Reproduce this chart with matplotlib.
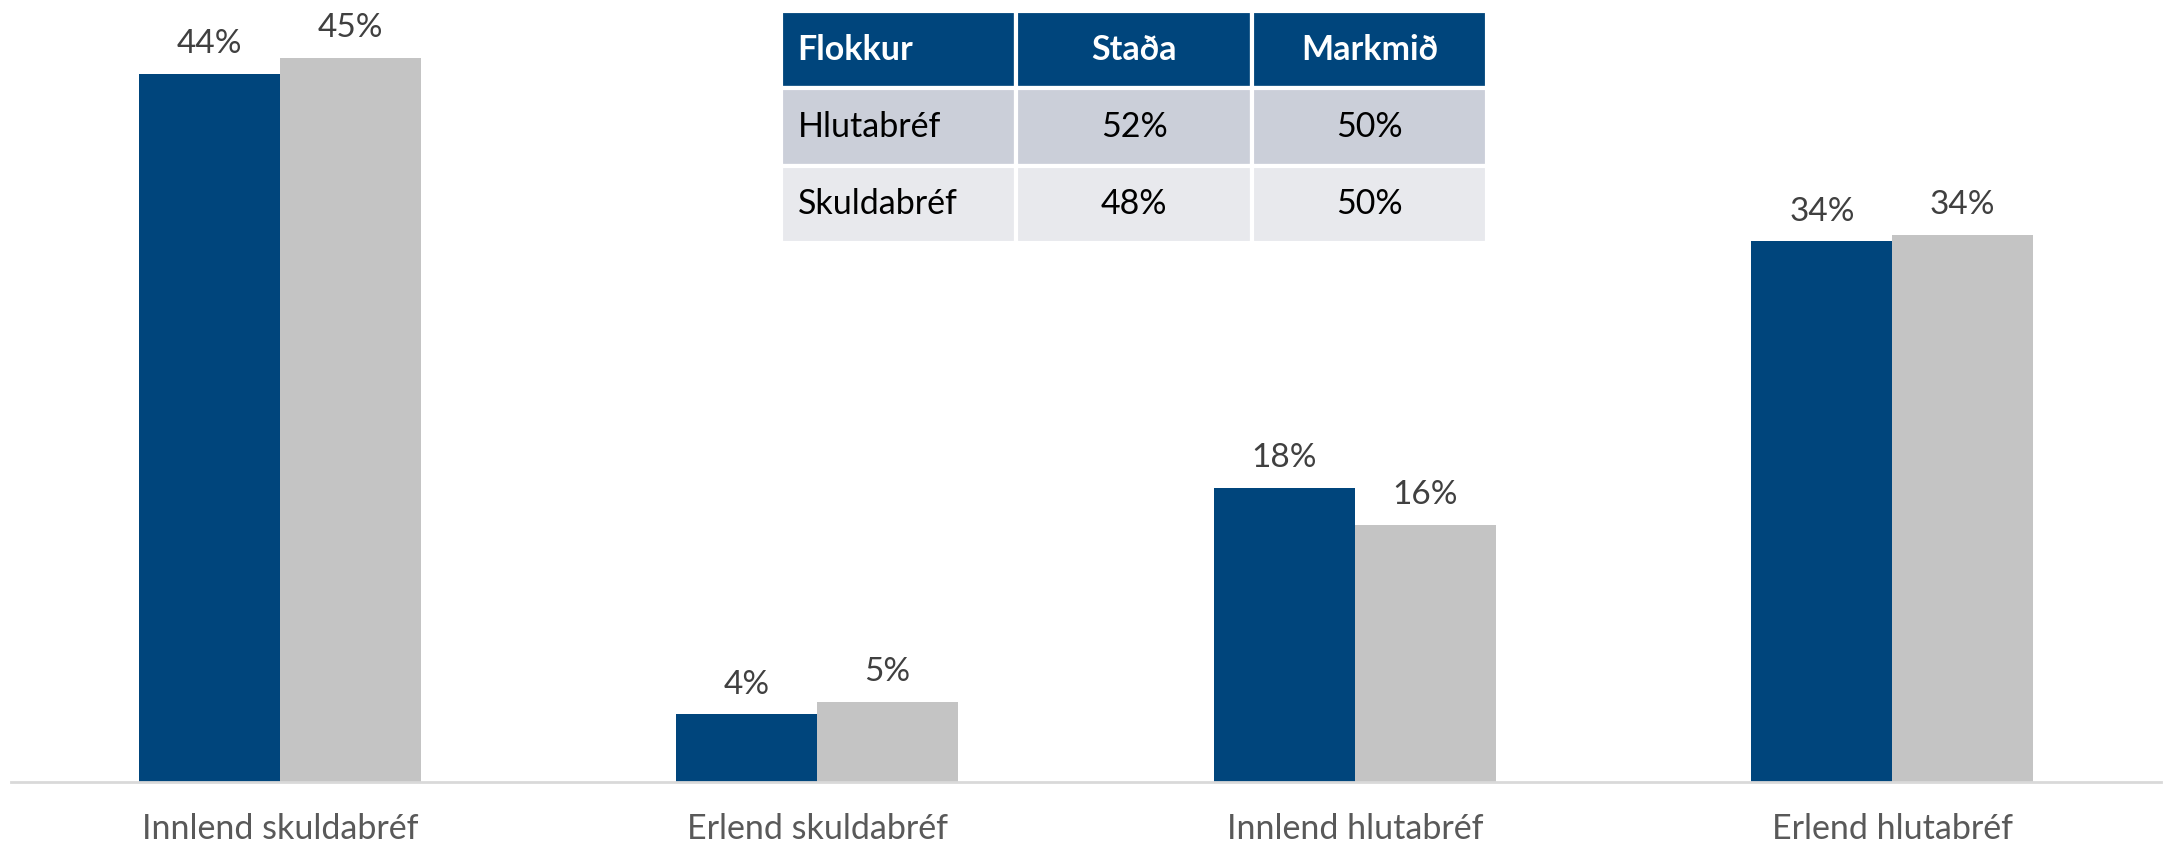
import matplotlib
matplotlib.use("Agg")
import matplotlib.pyplot as plt
import numpy as np

plt.rcParams['font.family'] = ['Lato', 'DejaVu Sans']

# data
categories = ['Innlend skuldabréf', 'Erlend skuldabréf', 'Innlend hlutabréf', 'Erlend hlutabréf']
stada = [44.0, 4.2, 18.3, 33.6]     # dark blue
markmid = [45.0, 5.0, 16.0, 34.0]   # grey

tbl_cols = ['Flokkur', 'Staða', 'Markmið']
tbl_rows = [['Hlutabréf', '52%', '50%'],
            ['Skuldabréf', '48%', '50%']]

blue = '#00457C'
grey = '#C4C4C4'

fig = plt.figure(figsize=(21.63, 8.48), dpi=100)
ax = fig.add_axes([0.0051, 0.0778, 0.994, 0.9222])

x = np.arange(len(categories))
w = 0.262
b1 = ax.bar(x - w / 2, stada, w, color=blue)
b2 = ax.bar(x + w / 2, markmid, w, color=grey)

for bars in (b1, b2):
    for r in bars:
        h = r.get_height()
        ax.annotate('%.0f%%' % h, (r.get_x() + r.get_width() / 2, h),
                    xytext=(0, 15), textcoords='offset points',
                    ha='center', va='baseline', fontsize=24, color='#404040')

ax.set_xlim(-0.5, 3.5)
ax.set_ylim(0, 48.6)
ax.set_xticks(x)
ax.set_xticklabels(categories, fontsize=24.5, color='#595959')
ax.tick_params(axis='x', length=0, pad=22)
ax.set_yticks([])
for s in ['top', 'right', 'left']:
    ax.spines[s].set_visible(False)
ax.spines['bottom'].set_color('#D9D9D9')
ax.spines['bottom'].set_linewidth(2)

# the small table in the top middle
tax = fig.add_axes([0.3611, 0.7134, 0.3264, 0.2735])
tax.axis('off')
tb = tax.table(cellText=tbl_rows, colLabels=tbl_cols, bbox=[0, 0, 1, 1],
               cellLoc='center')
tb.auto_set_font_size(False)
row_bg = ['#CBCFD9', '#E8E9ED']
for (r, c), cell in tb.get_celld().items():
    cell.set_edgecolor('white')
    cell.set_linewidth(3)
    cell.PAD = 0.07
    txt = cell.get_text()
    txt.set_fontsize(24.5)
    if r == 0:
        cell.set_facecolor(blue)
        txt.set_color('white')
        txt.set_fontweight('bold')
    else:
        cell.set_facecolor(row_bg[r - 1])
        txt.set_color('black')
    if c == 0:
        txt.set_ha('left')
        cell._loc = 'left'

fig.savefig('out.png', dpi=100)
